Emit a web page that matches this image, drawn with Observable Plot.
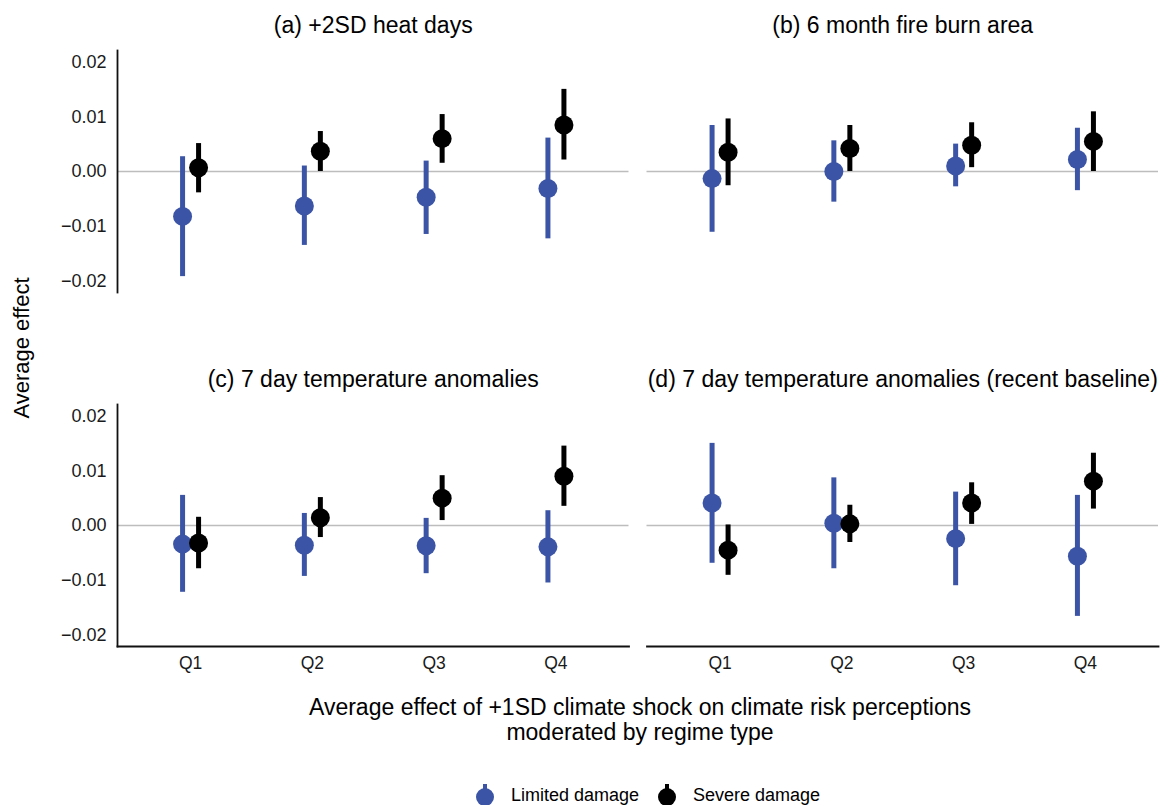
<!DOCTYPE html>
<html>
<head>
<meta charset="utf-8">
<script src="https://cdn.jsdelivr.net/npm/d3@7"></script>
<script src="https://cdn.jsdelivr.net/npm/@observablehq/plot@0.6"></script>
<style>
  html, body { margin: 0; padding: 0; background: #fff; }
  body { font-family: "Liberation Sans", Arial, Helvetica, sans-serif; color: #000; }
  #wrap { position: relative; width: 1164px; height: 805px; overflow: hidden; }
  #chart { position: absolute; left: 0; top: 0; }
  .abs { position: absolute; white-space: nowrap; }
  #ytitle { left: 22px; top: 348px; font-size: 22px; transform: translate(-50%, -50%) rotate(-90deg); }
  #xtitle { left: 640px; top: 695px; transform: translateX(-50%); font-size: 23px; line-height: 25px; text-align: center; }
  .leg { top: 782px; font-size: 18px; display: flex; align-items: center; }
  .leg svg { margin-right: 15px; }
</style>
</head>
<body>
<div id="wrap">
  <div id="chart"></div>
  <div id="ytitle" class="abs">Average effect</div>
  <div id="xtitle" class="abs">Average effect of +1SD climate shock on climate risk perceptions<br>moderated by regime type</div>
  <div class="abs leg" style="left:474px"><svg width="22" height="26"><line x1="11" x2="11" y1="2" y2="14" stroke="#3B54A5" stroke-width="4"/><circle cx="11" cy="15" r="9" fill="#3B54A5"/></svg>Limited damage</div>
  <div class="abs leg" style="left:656px"><svg width="22" height="26"><line x1="11" x2="11" y1="2" y2="14" stroke="#000" stroke-width="4"/><circle cx="11" cy="15" r="9" fill="#000"/></svg>Severe damage</div>
</div>
<script>
// ---- data ----
const quartiles = ["Q1", "Q2", "Q3", "Q4"];
const groups = ["Limited damage", "Severe damage"];
const panelTitles = [
  "(a) +2SD heat days",
  "(b) 6 month fire burn area",
  "(c) 7 day temperature anomalies",
  "(d) 7 day temperature anomalies (recent baseline)"
];
const panelCols = [0, 1, 0, 1];
const panelRows = [0, 0, 1, 1];
const yTicks = [-0.02, -0.01, 0, 0.01, 0.02];

// [estimate, lower, upper] per quartile
const heatLimited   = [[-0.0082, -0.0192, 0.0027], [-0.0063, -0.0135, 0.0010], [-0.0047, -0.0115, 0.0019], [-0.0031, -0.0123, 0.0061]];
const heatSevere    = [[ 0.0007, -0.0039, 0.0051], [ 0.0037,  0.0000, 0.0073], [ 0.0060,  0.0015, 0.0104], [ 0.0085,  0.0021, 0.0150]];
const fireLimited   = [[-0.0013, -0.0111, 0.0084], [ 0.0000, -0.0056, 0.0056], [ 0.0010, -0.0028, 0.0050], [ 0.0022, -0.0035, 0.0079]];
const fireSevere    = [[ 0.0035, -0.0026, 0.0096], [ 0.0042,  0.0000, 0.0084], [ 0.0048,  0.0007, 0.0089], [ 0.0055,  0.0000, 0.0109]];
const tempLimited   = [[-0.0034, -0.0122, 0.0055], [-0.0036, -0.0093, 0.0022], [-0.0037, -0.0088, 0.0013], [-0.0039, -0.0105, 0.0027]];
const tempSevere    = [[-0.0032, -0.0079, 0.0015], [ 0.0014, -0.0022, 0.0051], [ 0.0050,  0.0009, 0.0091], [ 0.0090,  0.0035, 0.0145]];
const recentLimited = [[ 0.0041, -0.0069, 0.0150], [ 0.0004, -0.0079, 0.0087], [-0.0024, -0.0110, 0.0061], [-0.0056, -0.0166, 0.0055]];
const recentSevere  = [[-0.0045, -0.0091, 0.0001], [ 0.0003, -0.0031, 0.0037], [ 0.0041,  0.0002, 0.0078], [ 0.0081,  0.0030, 0.0132]];

const seriesByPanel = [
  [heatLimited, heatSevere],
  [fireLimited, fireSevere],
  [tempLimited, tempSevere],
  [recentLimited, recentSevere]
];

// ---- build table ----
const rows = [];
seriesByPanel.forEach((pair, p) => {
  pair.forEach((series, g) => {
    series.forEach(([est, lo, hi], i) => {
      rows.push({col: panelCols[p], row: panelRows[p], q: quartiles[i], group: groups[g], est, lo, hi});
    });
  });
});
const titles = panelTitles.map((t, p) => ({title: t, col: panelCols[p], row: panelRows[p]}));
const limited = rows.filter(d => d.group === groups[0]);
const severe = rows.filter(d => d.group === groups[1]);

const blue = "#3B54A5";

const chart = Plot.plot({
  width: 1164,
  height: 680,
  marginTop: 50,
  marginBottom: 34,
  marginLeft: 117,
  marginRight: 6,
  style: {fontFamily: '"Liberation Sans", Arial, Helvetica, sans-serif', fontSize: "18px", color: "#1a1a1a", background: "white"},
  fx: {axis: null, paddingInner: 0.034, paddingOuter: 0, round: false},
  fy: {axis: null, paddingInner: 0.3164, paddingOuter: 0, round: false},
  x: {type: "point", domain: quartiles, padding: 0.6, round: false},
  y: {domain: [-0.0221, 0.0221]},
  marks: [
    Plot.ruleY([0], {stroke: "#bdbdbd", strokeWidth: 1.3}),
    Plot.frame({anchor: "left", facetAnchor: "left", stroke: "#111", strokeWidth: 1.8}),
    Plot.frame({anchor: "bottom", facetAnchor: "bottom", stroke: "#111", strokeWidth: 1.8}),
    Plot.axisY({ticks: yTicks, tickSize: 0, tickPadding: 11, tickFormat: d3.format(".2f"), label: null, fontSize: 18}),
    Plot.axisX({tickSize: 0, tickPadding: 10, label: null, fontSize: 17.5}),
    Plot.text(titles, {fx: "col", fy: "row", text: "title", frameAnchor: "top", dy: -34, fontSize: 23, fill: "#000"}),
    Plot.ruleX(limited, {fx: "col", fy: "row", x: "q", y1: "lo", y2: "hi", stroke: blue, strokeWidth: 5, dx: -8}),
    Plot.dot(limited, {fx: "col", fy: "row", x: "q", y: "est", r: 9.5, fill: blue, dx: -8}),
    Plot.ruleX(severe, {fx: "col", fy: "row", x: "q", y1: "lo", y2: "hi", stroke: "#000", strokeWidth: 5, dx: 8}),
    Plot.dot(severe, {fx: "col", fy: "row", x: "q", y: "est", r: 9.5, fill: "#000", dx: 8})
  ]
});
document.getElementById("chart").appendChild(chart);
</script>
</body>
</html>
